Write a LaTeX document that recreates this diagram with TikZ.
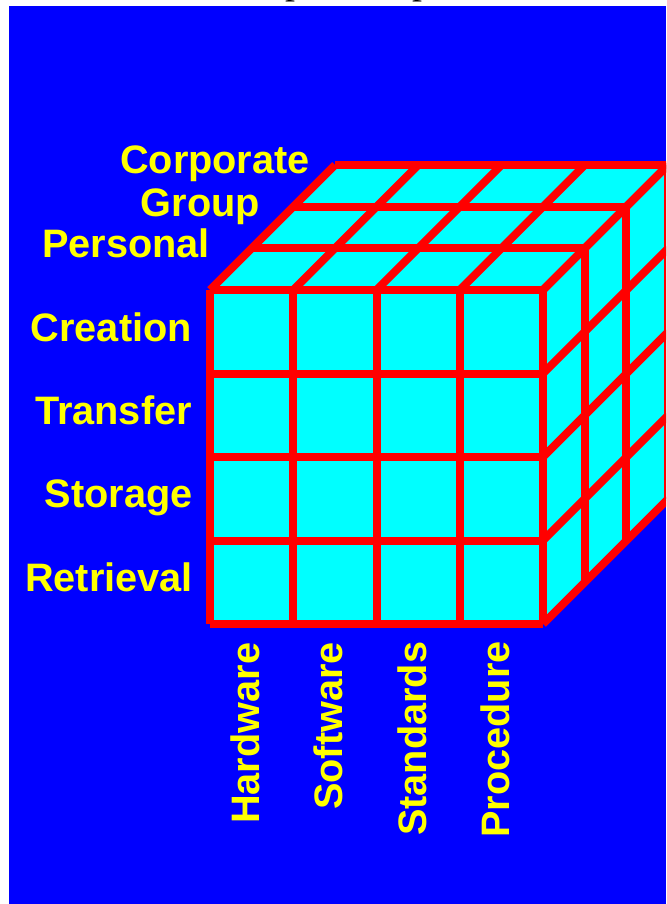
\documentclass[tikz,border=0pt]{standalone}
\usepackage{fontspec}
\setmainfont{Liberation Sans}
\newfontfamily\serifcut{Liberation Serif}
\tikzset{
  lab/.style={font=\fontsize{39.7}{40}\selectfont\bfseries,text=labyellow,inner sep=0pt,anchor=base east},
  vlab/.style={lab,rotate=90},
  grid/.style={draw=gridred,line width=8pt},
  cut/.style={font=\serifcut\fontsize{40}{40}\selectfont,text=black,inner sep=0pt,anchor=base}
}
\definecolor{labyellow}{rgb}{1,1,0}
\definecolor{gridred}{rgb}{1,0,0}
\definecolor{facecyan}{rgb}{0,1,1}
\definecolor{bgblue}{rgb}{0,0,1}
\begin{document}
\begin{tikzpicture}[x=1pt,y=-1pt]
\useasboundingbox (0,0) rectangle (666,904);
\fill[white] (0,0) rectangle (666,904);
\node[cut] (capa) at (295,-6) {p};
\node[cut] (capb) at (422,-6) {p};
\fill[bgblue] (9,6) rectangle (666,904);
\begin{scope}
\clip (0,0) rectangle (666,904);
% faces
\fill[facecyan] (210,290) -- (543,290) -- (543,624) -- (210,624) -- cycle;
\fill[facecyan] (210,290) -- (335,165) -- (668,165) -- (543,290) -- cycle;
\fill[facecyan] (543,290) -- (668,165) -- (668,499) -- (543,624) -- cycle;
% front grid, and the lines that run back from it
\foreach \i in {0,...,4}{
  \draw[grid] ({210+83.25*\i},290) -- ({210+83.25*\i},624);
  \draw[grid] (210,{290+83.5*\i}) -- (543,{290+83.5*\i});
  \draw[grid] ({210+83.25*\i},290) -- ({335+83.25*\i},165);
  \draw[grid] (543,{290+83.5*\i}) -- (668,{165+83.5*\i});
}
% layers of depth
\foreach \i in {0,...,3}{
  \draw[grid] ({210+41.67*\i},{290-41.67*\i}) -- ({543+41.67*\i},{290-41.67*\i});
  \draw[grid] ({543+41.67*\i},{290-41.67*\i}) -- ({543+41.67*\i},{624-41.67*\i});
}
\end{scope}
\node[lab] (corporate) at (310,174) {Corporate};
\node[lab] (group) at (260,216) {Group};
\node[lab] (personal) at (210,257) {Personal};
\node[lab] (creation) at (192,341) {Creation};
\node[lab] (transfer) at (192,424) {Transfer};
\node[lab] (storage) at (193,507) {Storage};
\node[lab] (retrieval) at (193,591) {Retrieval};
\node[vlab,anchor=base west] (hardware) at (259,824) {Hardware};
\node[vlab,anchor=base west] (software) at (342,810) {Software};
\node[vlab,anchor=base west] (standards) at (426,836) {Standards};
\node[vlab,anchor=base west] (procedure) at (509,838) {Procedure};
\end{tikzpicture}
\end{document}
